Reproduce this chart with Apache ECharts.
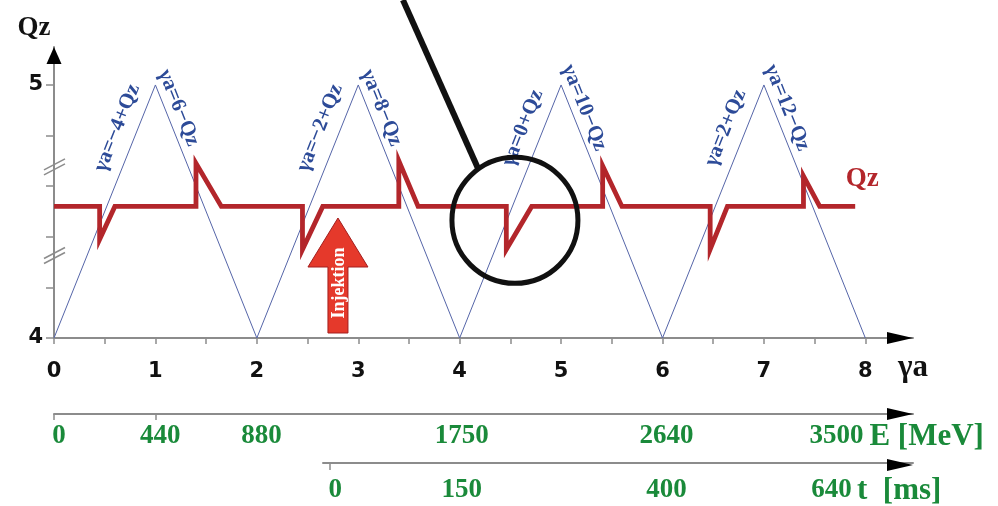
<!DOCTYPE html>
<html>
<head>
<meta charset="utf-8">
<script src="https://cdn.jsdelivr.net/npm/echarts@6/dist/echarts.min.js"></script>
<style>
  html, body { margin: 0; padding: 0; background: #ffffff; }
  #chart { width: 998px; height: 506px; }
</style>
</head>
<body>
<div id="chart"></div>
<script>
// γa axis
const gaTicks = [0, 0.5, 1, 1.5, 2, 2.5, 3, 3.5, 4, 4.5, 5, 5.5, 6, 6.5, 7, 7.5, 8];
const gaLabels = [0, 1, 2, 3, 4, 5, 6, 7, 8];
// Qz axis
const qzTicks = [4, 4.2, 4.4, 4.6, 4.8, 5];
const qzLabels = [4, 5];

// depolarising resonances: γa = n + Qz (rising) and γa = m − Qz (falling)
const risingN = [-4, -2, 0, 2];
const fallingM = [6, 8, 10, 12];

// vertical tune Qz during the energy ramp (tune jumps at each resonance)
const qzGa  = [0, 0.45, 0.45, 0.60, 1.40, 1.40, 1.65, 2.45, 2.45, 2.65, 3.40, 3.40, 3.59,
               4.46, 4.46, 4.71, 5.41, 5.41, 5.60, 6.47, 6.47, 6.64, 7.39, 7.39, 7.55, 7.90];
const qzVal = [4.52, 4.52, 4.39, 4.52, 4.52, 4.69, 4.52, 4.52, 4.35, 4.52, 4.52, 4.70, 4.52,
               4.52, 4.35, 4.52, 4.52, 4.68, 4.52, 4.52, 4.35, 4.52, 4.52, 4.64, 4.52, 4.52];

// beam energy scale (γa = E / 440.65 MeV)
const MEV_PER_GA = 440.65;
const energyLabels = [0, 440, 880, 1750, 2640, 3500];
const energyTicks = [0, 440];

// time after injection and the energy reached at that time
const timeMs = [0, 150, 400, 640];
const timeEnergy = [1200, 1750, 2640, 3500];

// ---- layout ----
const GRID_LEFT = 54, GRID_RIGHT = 85, GRID_TOP = 47, GRID_BOTTOM = 168;
const GA_MAX = 8.47, QZ_MIN = 4, QZ_MAX = 5.15;
const T_LEFT = 323;
const plotW = 998 - GRID_LEFT - GRID_RIGHT;
const tMinMeV = GA_MAX * (T_LEFT - GRID_LEFT) / plotW * MEV_PER_GA;

const AXIS_GREY = '#8c8c8c';
const BLUE = '#5565a8';
const BLUE_TEXT = '#2d4b98';
const RED = '#b3262b';
const GREEN = '#1a8a3a';
const SERIF = '"Liberation Serif", "DejaVu Serif", serif';
const SANS = '"DejaVu Sans", sans-serif';

const chart = echarts.init(document.getElementById('chart'), null, { renderer: 'canvas' });

const resonanceSeries = [];
risingN.forEach(n => {
  resonanceSeries.push({
    type: 'line', xAxisIndex: 0, yAxisIndex: 0, showSymbol: false, silent: true, z: 2,
    lineStyle: { color: BLUE, width: 1 },
    data: [[n + QZ_MIN, QZ_MIN], [n + 5, 5]]
  });
});
fallingM.forEach(m => {
  resonanceSeries.push({
    type: 'line', xAxisIndex: 0, yAxisIndex: 0, showSymbol: false, silent: true, z: 2,
    lineStyle: { color: BLUE, width: 1 },
    data: [[m - 5, 5], [m - QZ_MIN, QZ_MIN]]
  });
});

const greenLabel = (shiftLast) => ({
  color: GREEN,
  fontFamily: SERIF,
  fontWeight: 'bold',
  fontSize: 27,
  rich: {
    n: { color: GREEN, fontFamily: SERIF, fontWeight: 'bold', fontSize: 27, padding: [0, 0, 0, 10] },
    last: { color: GREEN, fontFamily: SERIF, fontWeight: 'bold', fontSize: 27, padding: [0, shiftLast, 0, 0] }
  }
});

chart.setOption({
  animation: false,
  backgroundColor: '#ffffff',
  grid: [
    { left: GRID_LEFT, right: GRID_RIGHT, top: GRID_TOP, bottom: GRID_BOTTOM, containLabel: false },
    { left: T_LEFT, right: GRID_RIGHT, top: 400, bottom: 41, containLabel: false }
  ],
  xAxis: [
    {
      type: 'value', gridIndex: 0, min: 0, max: GA_MAX,
      name: 'γa', nameLocation: 'end', nameGap: -15,
      nameTextStyle: { fontFamily: SERIF, fontWeight: 'bold', fontSize: 31, color: '#111',
                       verticalAlign: 'top', align: 'left', padding: [14, 0, 0, 0] },
      axisLine: { show: true, onZero: false, lineStyle: { color: AXIS_GREY, width: 2 } },
      axisTick: { show: true, customValues: gaTicks, length: 6, lineStyle: { color: AXIS_GREY, width: 1.5 } },
      axisLabel: { customValues: gaLabels, margin: 23, fontFamily: SANS, fontWeight: 'bold', fontSize: 21, color: '#111' },
      splitLine: { show: false }
    },
    {
      type: 'value', gridIndex: 0, position: 'bottom', offset: 76, min: 0, max: GA_MAX * MEV_PER_GA,
      name: 'E [MeV]', nameLocation: 'end', nameGap: -46,
      nameTextStyle: { fontFamily: SERIF, fontWeight: 'bold', fontSize: 31, color: GREEN,
                       verticalAlign: 'top', align: 'left', padding: [7, 0, 0, 0] },
      axisLine: { show: true, onZero: false, lineStyle: { color: AXIS_GREY, width: 2 } },
      axisTick: { show: true, customValues: energyTicks, length: 6, lineStyle: { color: AXIS_GREY, width: 1.5 } },
      axisLabel: Object.assign(greenLabel(46), {
        customValues: energyLabels, margin: 9,
        formatter: v => (v === energyLabels[energyLabels.length - 1] ? '{last|' + v + '}' : '{n|' + v + '}')
      }),
      splitLine: { show: false }
    },
    {
      type: 'value', gridIndex: 1, position: 'bottom', min: tMinMeV, max: GA_MAX * MEV_PER_GA,
      name: 't  [ms]', nameLocation: 'end', nameGap: -56,
      nameTextStyle: { fontFamily: SERIF, fontWeight: 'bold', fontSize: 31, color: GREEN,
                       verticalAlign: 'top', align: 'left', padding: [12, 0, 0, 0] },
      axisLine: { show: true, onZero: false, lineStyle: { color: AXIS_GREY, width: 2 } },
      axisTick: { show: true, customValues: [timeEnergy[0]], length: 7, lineStyle: { color: AXIS_GREY, width: 1.5 } },
      axisLabel: Object.assign(greenLabel(56), {
        customValues: timeEnergy, margin: 14,
        formatter: v => {
          const i = timeEnergy.indexOf(v);
          return i === timeEnergy.length - 1 ? '{last|' + timeMs[i] + '}' : '{n|' + timeMs[i] + '}';
        }
      }),
      splitLine: { show: false }
    }
  ],
  yAxis: [
    {
      type: 'value', gridIndex: 0, min: QZ_MIN, max: QZ_MAX,
      name: 'Qz', nameLocation: 'end', nameGap: 5,
      nameTextStyle: { fontFamily: SERIF, fontWeight: 'bold', fontSize: 27, color: '#111', padding: [0, 40, 0, 0] },
      axisLine: { show: true, onZero: false, lineStyle: { color: AXIS_GREY, width: 2 } },
      axisTick: { show: true, customValues: qzTicks, length: 8, lineStyle: { color: AXIS_GREY, width: 1.5 } },
      axisLabel: { customValues: qzLabels, margin: 11, fontFamily: SANS, fontWeight: 'bold', fontSize: 21, color: '#111' },
      splitLine: { show: false }
    },
    { type: 'value', gridIndex: 1, show: false, min: 0, max: 1 }
  ],
  series: resonanceSeries.concat([
    {
      type: 'line', xAxisIndex: 0, yAxisIndex: 0, showSymbol: false, silent: true, z: 5,
      lineStyle: { color: RED, width: 4.8, join: 'miter', cap: 'butt' },
      data: qzGa.map((g, i) => [g, qzVal[i]])
    }
  ])
});

// ---- annotations placed in data coordinates ----
const px = (g, q) => chart.convertToPixel({ gridIndex: 0 }, [g, q]);
const graphics = [];

// arrow heads at the axis ends
const xEnd = px(GA_MAX, QZ_MIN);
const yEnd = px(0, QZ_MAX);
const arrowH = (x, y) => ({
  type: 'polygon', z: 50, silent: true,
  shape: { points: [[x - 26, y - 6], [x, y], [x - 26, y + 6]] },
  style: { fill: '#000' }
});
graphics.push(arrowH(xEnd[0], xEnd[1]));
graphics.push(arrowH(xEnd[0], xEnd[1] + 76));
graphics.push(arrowH(xEnd[0], 506 - 41));
graphics.push({
  type: 'polygon', z: 50, silent: true,
  shape: { points: [[yEnd[0] - 7.5, yEnd[1] + 17], [yEnd[0], yEnd[1]], [yEnd[0] + 7.5, yEnd[1] + 17]] },
  style: { fill: '#000' }
});

// axis break marks on the Qz axis
[4.68, 4.33].forEach(q => {
  const p = px(0, q);
  [0, 5].forEach(d => {
    graphics.push({
      type: 'line', z: 50, silent: true,
      shape: { x1: p[0] - 10, y1: p[1] + 4 + d, x2: p[0] + 11, y2: p[1] - 7 + d },
      style: { stroke: AXIS_GREY, lineWidth: 1.5 }
    });
  });
});

// resonance labels along the lines
const rot = Math.atan((px(0, 4)[1] - px(0, 5)[1]) / (px(1, 4)[0] - px(0, 4)[0]));
const fmtN = n => (n < 0 ? '−' + (-n) : String(n));
risingN.forEach(n => {
  const q = 4.83;
  const p = px(n + q, q);
  graphics.push({
    type: 'text', z: 40, silent: true, x: p[0] - 21, y: p[1], rotation: rot,
    style: { text: 'γa=' + fmtN(n) + '+Qz', x: 0, y: 0, align: 'center', verticalAlign: 'middle',
             fill: BLUE_TEXT, font: 'bold 21px ' + SERIF }
  });
});
fallingM.forEach(m => {
  const q = 4.91;
  const p = px(m - q, q);
  graphics.push({
    type: 'text', z: 40, silent: true, x: p[0] + 14, y: p[1], rotation: -rot,
    style: { text: 'γa=' + m + '−Qz', x: 0, y: 0, align: 'center', verticalAlign: 'middle',
             fill: BLUE_TEXT, font: 'bold 21px ' + SERIF }
  });
});

// series label
const qzEnd = px(qzGa[qzGa.length - 1], qzVal[qzVal.length - 1]);
graphics.push({
  type: 'text', z: 40, silent: true, x: qzEnd[0] + 7, y: qzEnd[1] - 27,
  style: { text: 'Qz', x: 0, y: 0, align: 'center', verticalAlign: 'middle', fill: RED, font: 'bold 27px ' + SERIF }
});

// injection arrow
const inj = px(2.8, QZ_MIN);
const ix = inj[0], iy = inj[1] - 5;
graphics.push({
  type: 'polygon', z: 30, silent: true,
  shape: { points: [[ix - 10, iy], [ix - 10, iy - 66], [ix - 30, iy - 66], [ix, iy - 115],
                    [ix + 30, iy - 66], [ix + 10, iy - 66], [ix + 10, iy]] },
  style: { fill: '#e5392b', stroke: '#a31e1e', lineWidth: 1 }
});
graphics.push({
  type: 'text', z: 31, silent: true, x: ix + 1, y: iy - 50, rotation: Math.PI / 2,
  style: { text: 'Injektion', x: 0, y: 0, align: 'center', verticalAlign: 'middle', fill: '#ffffff', font: 'bold 18px ' + SERIF }
});

// magnifier circle around the injection-time resonance crossing
const c = px(4.545, 4.465);
graphics.push({
  type: 'circle', z: 60, silent: true,
  shape: { cx: c[0], cy: c[1], r: 63 },
  style: { fill: 'none', stroke: '#111', lineWidth: 5 }
});
graphics.push({
  type: 'line', z: 60, silent: true,
  shape: { x1: c[0] - 112, y1: 0, x2: c[0] - 37, y2: c[1] - 52 },
  style: { stroke: '#111', lineWidth: 6 }
});

chart.setOption({ graphic: graphics });
</script>
</body>
</html>
